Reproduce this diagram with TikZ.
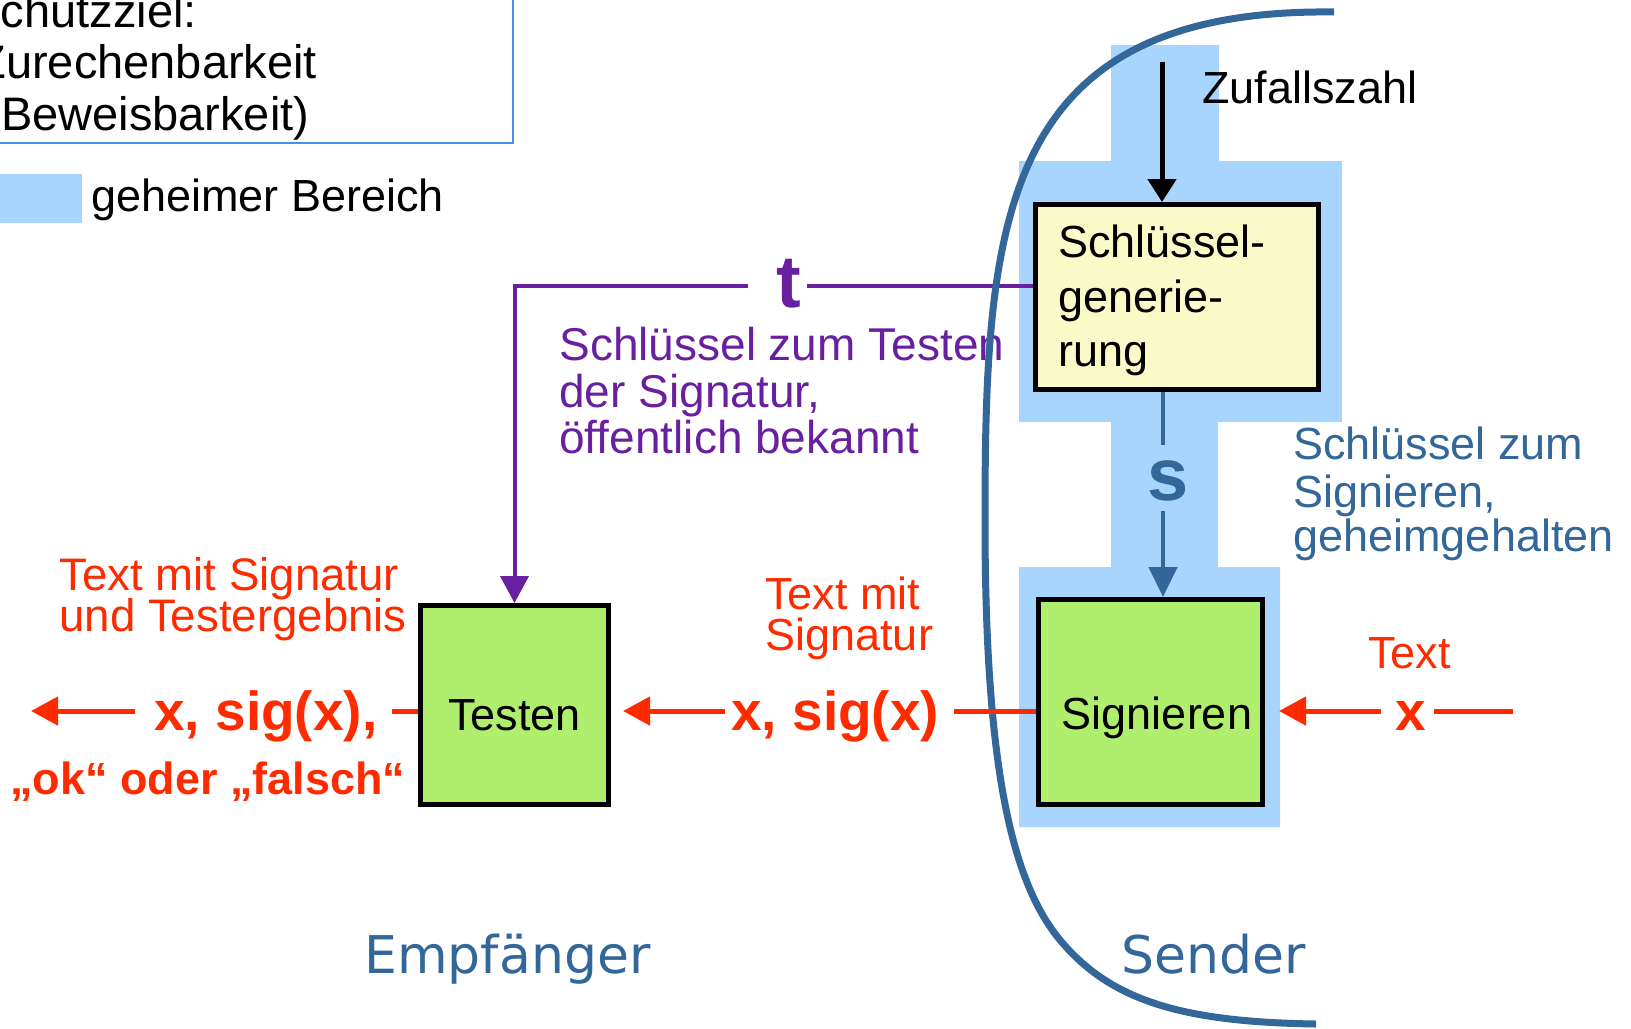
\documentclass[tikz,border=0pt]{standalone}
\usepackage{fontspec}
\setmainfont{Liberation Sans}
\newfontfamily\dejavu{DejaVu Sans}
\usetikzlibrary{arrows.meta}
\definecolor{secret}{RGB}{168,213,253}
\definecolor{darkblue}{RGB}{51,102,153}
\definecolor{mypurple}{RGB}{104,32,160}
\definecolor{myred}{RGB}{255,43,0}
\definecolor{myyellow}{RGB}{250,250,200}
\definecolor{mygreen}{RGB}{176,238,110}
\definecolor{frameblue}{RGB}{74,144,226}
\newcommand\myfs[1]{\fontsize{#1}{#1}\selectfont}
\tikzset{
  txt/.style={anchor=base west, inner sep=0pt},
  ctxt/.style={anchor=base, inner sep=0pt},
  procbox/.style={draw=black, line width=2.5pt, inner sep=0pt},
  redline/.style={draw=myred, line width=2.5pt},
  redarrow/.style={redline, -{Triangle[length=13.5pt,width=14pt]}},
  purpleline/.style={draw=mypurple, line width=2pt},
  bluelinestyle/.style={draw=darkblue, line width=2.2pt},
}
\begin{document}
\begin{tikzpicture}[x=0.5pt,y=-0.5pt]
\useasboundingbox (0,0) rectangle (1631,1028);
\clip (0,0) rectangle (1631,1028);
% legend box
\draw[frameblue, line width=1pt] (-40,-40) rectangle (513,143);
\node[txt, font=\myfs{23.5pt}] (sz1) at (-31,27) {Schutzziel:};
\node[txt, font=\myfs{23.5pt}] (sz2) at (-23,78) {Zurechenbarkeit};
\node[txt, font=\myfs{23.5pt}] (sz3) at (-15,130) {(Beweisbarkeit)};
\fill[secret] (-10,174) rectangle (82,223);
\node[txt, font=\myfs{22.5pt}] (leg) at (91,211) {geheimer Bereich};
% secret area
\fill[secret] (1111,45) -- (1219,45) -- (1219,161) -- (1342,161) -- (1342,422) -- (1218,422) -- (1218,567) -- (1280,567) -- (1280,827) -- (1019,827) -- (1019,567) -- (1111,567) -- (1111,422) -- (1019,422) -- (1019,161) -- (1111,161) -- cycle;
% boxes
\node[procbox, fill=myyellow, minimum width=141.5pt, minimum height=92.5pt] (gen) at (1177,297) {};
\node[procbox, fill=mygreen, minimum width=112pt, minimum height=102.5pt] (sig) at (1150.5,702) {};
\node[procbox, fill=mygreen, minimum width=94pt, minimum height=99.5pt] (test) at (514.5,705) {};
\node[txt, font=\myfs{22.5pt}] (g1) at (1058,257) {Schlüssel-};
\node[txt, font=\myfs{22.5pt}] (g2) at (1058,312) {generie-};
\node[txt, font=\myfs{22.5pt}] (g3) at (1058,366) {rung};
\node[ctxt, font=\myfs{22.5pt}] (sigt) at (1157,729) {Signieren};
\node[ctxt, font=\myfs{22.5pt}] (testt) at (514.5,730) {Testen};
% Zufallszahl
\coordinate (zs) at (1162,62);
\draw[line width=2.5pt, -{Triangle[length=11.5pt,width=14pt]}] (zs) -- (zs |- gen.north);
\node[txt, font=\myfs{22.5pt}] (zuf) at (1202,103) {Zufallszahl};
% purple t
\coordinate (ty) at (0,286);
\coordinate (tr) at (807,286);
\coordinate (tl) at (748,286);
\draw[purpleline] (gen.west |- ty) -- (tr);
\draw[purpleline, -{Triangle[length=13.5pt,width=14pt]}] (tl) -| (test.north);
\node[ctxt, font=\myfs{37pt}\bfseries, text=mypurple] (t) at (789,307) {t};
\node[txt, font=\myfs{23pt}, text=mypurple] (p1) at (559,360) {Schlüssel zum Testen};
\node[txt, font=\myfs{23pt}, text=mypurple] (p2) at (559,407) {der Signatur,};
\node[txt, font=\myfs{23pt}, text=mypurple] (p3) at (559,453) {öffentlich bekannt};
% s
\coordinate (s1) at (1163,445);
\coordinate (s2) at (1163,511);
\draw[bluelinestyle] (s1 |- gen.south) -- (s1);
\draw[bluelinestyle, -{Triangle[length=15pt,width=14pt]}] (s2) -- (s2 |- sig.north);
\node[ctxt, font=\myfs{37pt}\bfseries, text=darkblue] (s) at (1168,500) {s};
\node[txt, font=\myfs{22.5pt}, text=darkblue] (b1) at (1293,459) {Schlüssel zum};
\node[txt, font=\myfs{22.5pt}, text=darkblue] (b2) at (1293,507) {Signieren,};
\node[txt, font=\myfs{22.5pt}, text=darkblue] (b3) at (1293,551) {geheimgehalten};
% bracket curve
\draw[darkblue, line width=3.5pt] (1334,12) .. controls (1000,8) and (985,220) .. (985,520) .. controls (985,760) and (1010,880) .. (1060,940) .. controls (1110,1000) and (1180,1022) .. (1316,1024);
% red flow
\coordinate (xr) at (1513,711);
\coordinate (xr2) at (1434,711);
\coordinate (xr3) at (1381,711);
\draw[redline] (xr) -- (xr2);
\node[ctxt, font=\myfs{27.5pt}\bfseries, text=myred] (xlab) at (1411,730) {x};
\draw[redarrow, shorten >=7pt] (xr3) -- (sig.east |- xr3);
\node[txt, font=\myfs{22.5pt}, text=myred] (tx) at (1368,668) {Text};
\coordinate (m1) at (954,711);
\coordinate (m2) at (725,711);
\draw[redline] (sig.west |- m1) -- (m1);
\node[txt, font=\myfs{27.5pt}\bfseries, text=myred] (mlab) at (731,730) {x, sig(x)};
\draw[redarrow, shorten >=6pt] (m2) -- (test.east |- m2);
\node[txt, font=\myfs{22.5pt}, text=myred] (tm1) at (765,609) {Text mit};
\node[txt, font=\myfs{22.5pt}, text=myred] (tm2) at (765,650) {Signatur};
\coordinate (l1) at (392,711);
\coordinate (l2) at (135,711);
\coordinate (l3) at (31,711);
\draw[redline] (test.west |- l1) -- (l1);
\node[txt, font=\myfs{27.5pt}\bfseries, text=myred] (llab) at (154,730) {x, sig(x),};
\draw[redarrow] (l2) -- (l3);
\node[txt, font=\myfs{22.5pt}\bfseries, text=myred] (ok) at (10,794) {„ok“ oder „falsch“};
\node[txt, font=\myfs{22.8pt}, text=myred] (r1) at (59,590) {Text mit Signatur};
\node[txt, font=\myfs{22.8pt}, text=myred] (r2) at (59,631) {und Testergebnis};
% parties
\node[txt, font=\dejavu\myfs{26pt}, text=darkblue] (emp) at (364,973) {Empfänger};
\node[txt, font=\dejavu\myfs{26pt}, text=darkblue] (snd) at (1121,973) {Sender};
\end{tikzpicture}
\end{document}
